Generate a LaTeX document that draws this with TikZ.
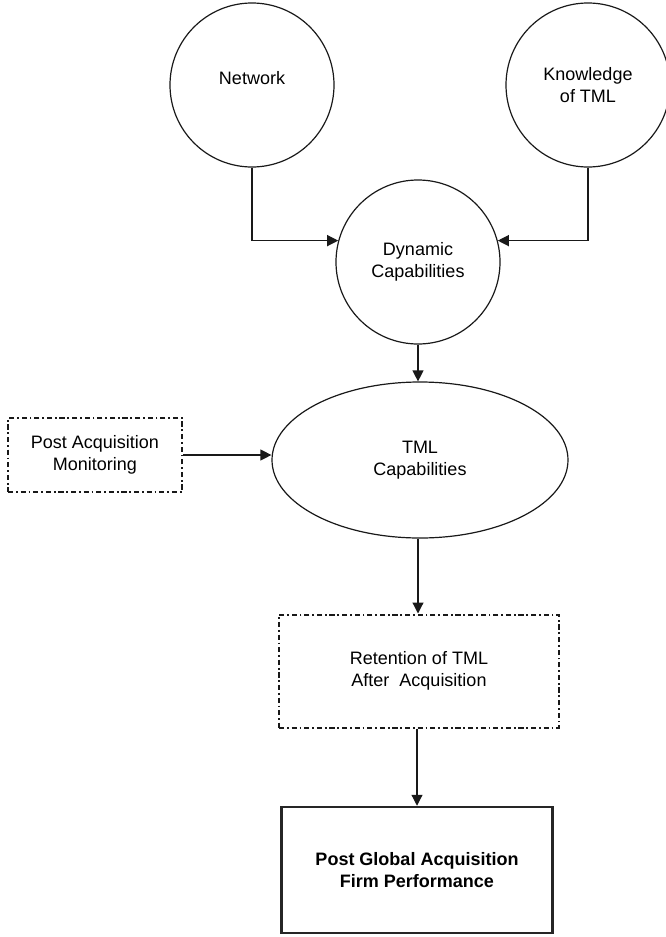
\documentclass[tikz,border=0pt]{standalone}
\usepackage{fontspec}
\setmainfont{Liberation Sans}
\usepackage{tikz}
\usetikzlibrary{shapes.geometric, arrows.meta, calc}

\begin{document}
\begin{tikzpicture}
  [x=0.5pt, y=-0.5pt,
   font=\fontsize{9pt}{10.8pt}\selectfont,
   bubble/.style={draw=black!90, line width=0.6pt, circle, minimum size=82pt,
     inner sep=0pt, align=center},
   oval/.style={draw=black!90, line width=0.6pt, ellipse, minimum width=148pt,
     minimum height=78pt, inner sep=0pt, align=center},
   dotbox/.style={draw=black!90, line width=1pt, rectangle, align=center,
     dash pattern=on 2.6pt off 1.4pt on 0.9pt off 1.4pt},
   solidbox/.style={draw=black!85, line width=1.25pt, rectangle, align=center},
   arr/.style={line width=0.6pt, draw=black!90,
     -{Triangle[length=5.5pt,width=5.5pt]}}]
  \useasboundingbox (0,0) rectangle (665,937);
  % top circles
  \node [bubble, label={[yshift=3.5pt]center:Network}] (net) at (252,85) {};
  \node [bubble] (know) at (588,85) {Knowledge\\of TML};
  \node [bubble] (dyncap) at (418,262) {Dynamic\\Capabilities};
  % middle
  \node [oval] (tmlcap) at (420,460) {TML\\Capabilities};
  \node [dotbox, minimum width=87pt, minimum height=37pt] (monitor) at (95,455)
    {Post Acquisition\\Monitoring};
  % bottom boxes
  \node [dotbox, minimum width=140pt, minimum height=56.5pt] (retain) at (419,671)
    {Retention of TML\\After\ \ Acquisition};
  \node [solidbox, minimum width=135.5pt, minimum height=63pt] (perf) at (417,870)
    {\bfseries Post Global Acquisition\\\bfseries Firm Performance};
  % edges
  \draw [arr] (net.south) |- (dyncap.165);
  \draw [arr] (know.south) |- (dyncap.15);
  \draw [arr] (dyncap.south) -- (dyncap.south |- tmlcap.north);
  \draw [arr] (monitor.east) -- (monitor.east -| tmlcap.west);
  \draw [arr] (tmlcap.south -| dyncap.south) -- (dyncap.south |- retain.north);
  \draw [arr] (retain.south -| perf.north) -- (perf.north);
\end{tikzpicture}
\end{document}
